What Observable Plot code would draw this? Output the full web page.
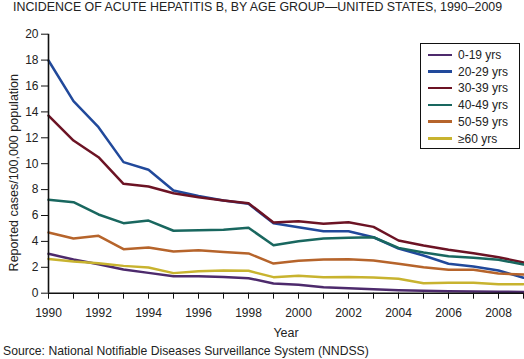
<!DOCTYPE html>
<html>
<head>
<meta charset="utf-8">
<script src="https://cdn.jsdelivr.net/npm/d3@7"></script>
<script src="https://cdn.jsdelivr.net/npm/@observablehq/plot@0.6"></script>
<style>
  body { margin: 0; background: #fff; font-family: "Liberation Sans", Arial, sans-serif; }
  #wrap { position: relative; width: 524px; height: 359px; overflow: hidden; }
  #title { position: absolute; left: 13px; top: 0px; font-size: 12.4px; line-height: 15px; color: #222; white-space: nowrap; }
  #chart { position: absolute; left: 0; top: 20px; }
  #caption { position: absolute; left: 3px; top: 342px; font-size: 12.2px; line-height: 18px; color: #222; white-space: nowrap; }
  #legend { position: absolute; left: 420px; top: 43px; width: 98px; height: 104px; border: 1px solid #111; background: #fff; box-sizing: content-box; }
  .lg-row { position: absolute; left: 0; height: 16px; font-size: 12px; line-height: 16px; color: #222; white-space: nowrap; }
  .lg-sw { position: absolute; left: 7px; top: 6.5px; width: 24px; height: 2.5px; }
  .lg-tx { position: absolute; left: 37px; top: 0; }
</style>
</head>
<body>
<div id="wrap">
  <div id="title">INCIDENCE OF ACUTE HEPATITIS B, BY AGE GROUP—UNITED STATES, 1990–2009</div>
  <div id="chart"></div>
  <div id="legend"></div>
  <div id="caption">Source: National Notifiable Diseases Surveillance System (NNDSS)</div>
</div>
<script>
const years = [1990,1991,1992,1993,1994,1995,1996,1997,1998,1999,2000,2001,2002,2003,2004,2005,2006,2007,2008,2009];
const groups = ["0-19 yrs","20-29 yrs","30-39 yrs","40-49 yrs","50-59 yrs","≥60 yrs"];
const colors = ["#4d2a6c","#21499b","#6c1324","#19675f","#b6642b","#c8b32f"];

const s0_19  = [3.04,2.60,2.24,1.83,1.57,1.31,1.31,1.26,1.16,0.75,0.65,0.46,0.39,0.31,0.23,0.18,0.15,0.13,0.12,0.10];
const s20_29 = [17.97,14.83,12.82,10.12,9.53,7.93,7.50,7.16,6.90,5.41,5.10,4.79,4.79,4.32,3.45,2.91,2.27,2.06,1.75,1.19];
const s30_39 = [13.72,11.79,10.50,8.45,8.24,7.72,7.41,7.16,6.95,5.46,5.56,5.36,5.48,5.12,4.07,3.68,3.35,3.09,2.78,2.37];
const s40_49 = [7.21,7.03,6.08,5.41,5.61,4.82,4.87,4.90,5.05,3.71,4.02,4.22,4.28,4.32,3.50,3.14,2.86,2.73,2.58,2.22];
const s50_59 = [4.69,4.22,4.43,3.40,3.53,3.22,3.32,3.19,3.07,2.29,2.50,2.60,2.63,2.52,2.27,2.01,1.81,1.81,1.52,1.44];
const s60    = [2.65,2.45,2.32,2.11,1.98,1.55,1.70,1.75,1.73,1.24,1.34,1.24,1.26,1.21,1.11,0.77,0.80,0.80,0.70,0.70];

const yTicks = [0,2,4,6,8,10,12,14,16,18,20];
const xTickLabels = [1990,1992,1994,1996,1998,2000,2002,2004,2006,2008];
const yTitle = "Reported cases/100,000 population";
const xTitle = "Year";

const seriesList = [s0_19, s20_29, s30_39, s40_49, s50_59, s60];
const data = [];
seriesList.forEach((vals, i) => {
  vals.forEach((v, j) => data.push({year: years[j], value: v, group: groups[i]}));
});

const chart = Plot.plot({
  width: 524,
  height: 320,
  marginLeft: 48,
  marginRight: 1,
  marginTop: 13.7,
  marginBottom: 47.3,
  style: {fontFamily: "'Liberation Sans', Arial, sans-serif", fontSize: "12px", color: "#222", background: "transparent"},
  x: {domain: [1990, 2009]},
  y: {domain: [0, 20]},
  color: {domain: groups, range: colors},
  marks: [
    Plot.lineY(data, {x: "year", y: "value", z: "group", stroke: "group", strokeWidth: 2.5, strokeLinejoin: "round"}),
    Plot.axisY({ticks: yTicks, tickSize: 7, tickPadding: 3, stroke: "#111", fontSize: 12, label: null}),
    Plot.axisX({ticks: years, tickSize: 6, tickPadding: 9, stroke: "#111", fontSize: 12,
      tickFormat: d => xTickLabels.includes(d) ? String(d) : "", label: null}),
    Plot.text([yTitle], {text: d => d, frameAnchor: "left", textAnchor: "middle", lineAnchor: "middle", rotate: -90, dx: -35, dy: 9, fontSize: 12.5, fill: "#222"}),
    Plot.text([xTitle], {text: d => d, frameAnchor: "bottom", dy: 44, fontSize: 12.5, fill: "#222"}),
    Plot.ruleX([1990], {stroke: "#111", strokeWidth: 1.6}),
    Plot.ruleY([0], {stroke: "#111", strokeWidth: 1.6})
  ]
});
document.getElementById("chart").appendChild(chart);

const legend = document.getElementById("legend");
groups.forEach((g, i) => {
  const row = document.createElement("div");
  row.className = "lg-row";
  row.style.top = (3 + i * 16.7) + "px";
  const sw = document.createElement("div");
  sw.className = "lg-sw";
  sw.style.background = colors[i];
  const tx = document.createElement("div");
  tx.className = "lg-tx";
  tx.textContent = g;
  row.appendChild(sw);
  row.appendChild(tx);
  legend.appendChild(row);
});
</script>
</body>
</html>
